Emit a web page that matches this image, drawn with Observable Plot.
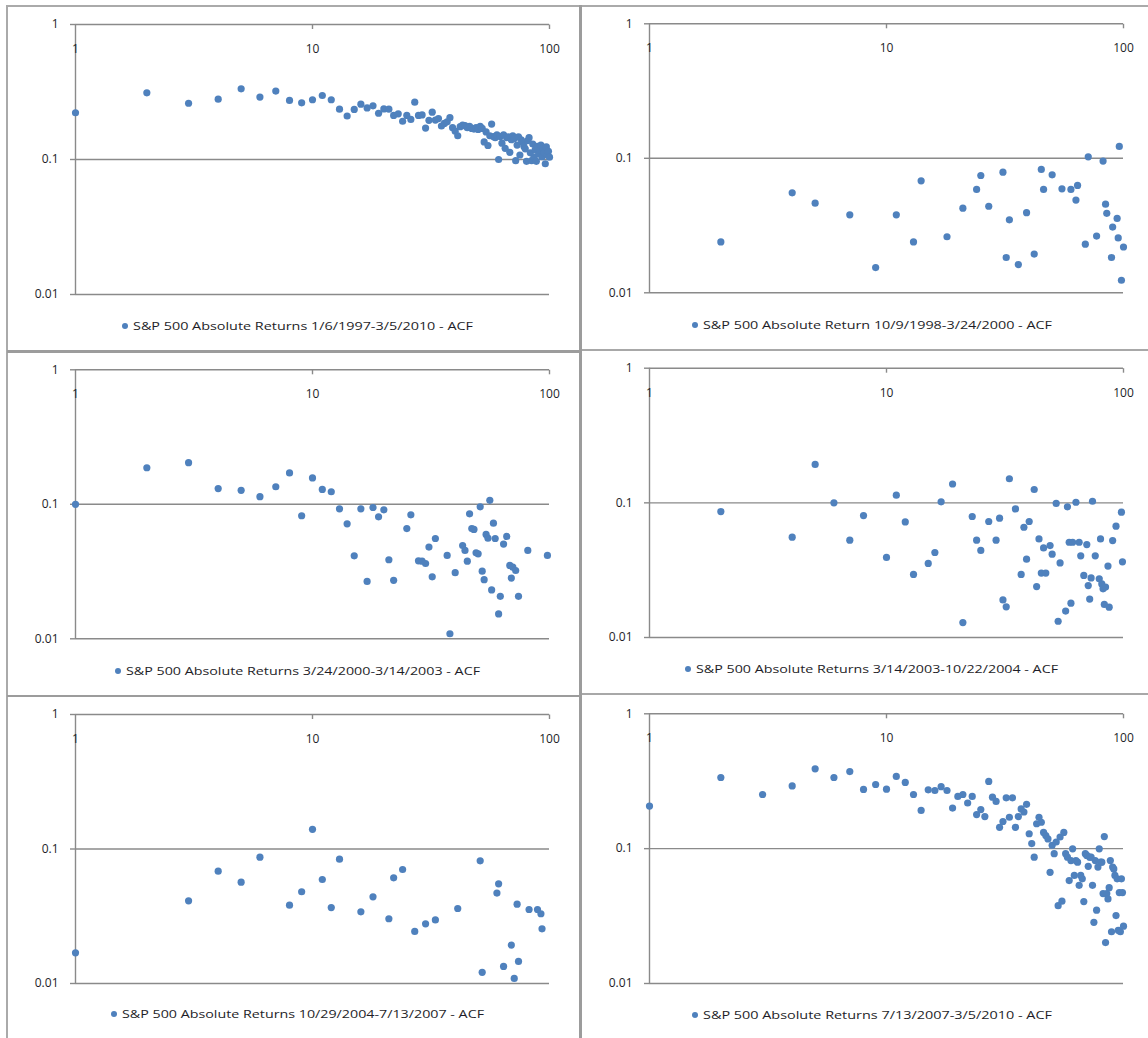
<!DOCTYPE html>
<html>
<head>
<meta charset="utf-8">
<script src="https://cdn.jsdelivr.net/npm/d3@7"></script>
<script src="https://cdn.jsdelivr.net/npm/@observablehq/plot@0.6"></script>
<style>
  html, body { margin: 0; padding: 0; background: #fff; }
  #page { position: relative; width: 1148px; height: 1038px; overflow: hidden; background: #fff; }
  .panel, .legend, .rule { position: absolute; }
  .rule { background: #a2a2a2; }
</style>
</head>
<body>
<div id="page"></div>
<script>
// Axis ticks shared by all six log-log panels
const xTicks = [1, 10, 100];
const yTicks = [0.01, 0.1, 1];

// Full sample: ACF of absolute returns at lags 1..100 (index + 1 = lag)
const acfFull = [
  0.222, 0.312, 0.261, 0.280, 0.334, 0.290, 0.321, 0.274, 0.263, 0.277,
  0.298, 0.277, 0.236, 0.210, 0.235, 0.257, 0.241, 0.250, 0.220, 0.237,
  0.236, 0.212, 0.218, 0.192, 0.212, 0.198, 0.266, 0.212, 0.214, 0.171,
  0.195, 0.224, 0.196, 0.201, 0.177, 0.185, 0.190, 0.204, 0.172, 0.162,
  0.150, 0.175, 0.180, 0.178, 0.172, 0.176, 0.170, 0.168, 0.172, 0.167,
  0.176, 0.170, 0.135, 0.160, 0.127, 0.150, 0.183, 0.148, 0.145, 0.152,
  0.100, 0.148, 0.132, 0.152, 0.121, 0.145, 0.147, 0.113, 0.140, 0.150,
  0.143, 0.098, 0.128, 0.147, 0.108, 0.140, 0.135, 0.125, 0.120, 0.097,
  0.138, 0.145, 0.112, 0.098, 0.130, 0.104, 0.118, 0.097, 0.125, 0.110,
  0.117, 0.128, 0.105, 0.120, 0.112, 0.093, 0.124, 0.108, 0.115, 0.104
];

// 10/9/1998 - 3/24/2000 (only positive ACF values appear on a log axis)
const lags9800 = [2, 4, 5, 7, 9, 11, 13, 14, 18, 21, 24, 25, 27, 31, 32, 33, 36, 39, 42, 45, 46, 50, 55, 60, 63, 64, 69, 71, 77, 82, 84, 85, 89, 90, 94, 95, 96, 98, 100];
const acf9800 = [0.0239, 0.0554, 0.0464, 0.0380, 0.0154, 0.0380, 0.0239, 0.0680, 0.0261, 0.0426, 0.0587, 0.0745, 0.0440, 0.0789, 0.0183, 0.0349, 0.0162, 0.0394, 0.0194, 0.0826, 0.0587, 0.0754, 0.0593, 0.0587, 0.0489, 0.0628, 0.0230, 0.1026, 0.0264, 0.0953, 0.0456, 0.0390, 0.0183, 0.0308, 0.0357, 0.0256, 0.1225, 0.0124, 0.0219];

// 3/24/2000 - 3/14/2003
const lags0003 = [1, 2, 3, 4, 5, 6, 7, 8, 9, 10, 11, 12, 13, 14, 15, 16, 17, 18, 19, 20, 21, 22, 25, 26, 28, 29, 30, 31, 32, 33, 37, 38, 40, 43, 44, 45, 46, 47, 48, 49, 50, 51, 52, 53, 54, 55, 56, 57, 58, 59, 61, 62, 64, 66, 68, 69, 70, 72, 74, 81, 98];
const acf0003 = [0.100, 0.187, 0.204, 0.131, 0.127, 0.114, 0.135, 0.171, 0.0822, 0.157, 0.129, 0.124, 0.0926, 0.0716, 0.0414, 0.0926, 0.0267, 0.0947, 0.0807, 0.0910, 0.0387, 0.0272, 0.0660, 0.0835, 0.0380, 0.0378, 0.0363, 0.0481, 0.0289, 0.0557, 0.0417, 0.0109, 0.0310, 0.0494, 0.0454, 0.0378, 0.0850, 0.0660, 0.0650, 0.0436, 0.0428, 0.0958, 0.0318, 0.0275, 0.0597, 0.0560, 0.107, 0.0231, 0.0724, 0.0557, 0.0153, 0.0207, 0.0506, 0.0577, 0.0351, 0.0283, 0.0341, 0.0322, 0.0207, 0.0454, 0.0417];

// 3/14/2003 - 10/22/2004
const lags0304 = [2, 4, 5, 6, 7, 8, 10, 11, 12, 13, 15, 16, 17, 19, 21, 23, 24, 25, 27, 29, 30, 31, 32, 33, 35, 37, 38, 39, 40, 42, 43, 44, 45, 46, 47, 49, 50, 52, 53, 54, 57, 58, 59, 60, 61, 63, 65, 66, 68, 70, 71, 72, 73, 74, 76, 79, 80, 81, 82, 83, 84, 86, 87, 90, 93, 98, 99];
const acf0304 = [0.0862, 0.0556, 0.193, 0.100, 0.0528, 0.0805, 0.0393, 0.114, 0.0722, 0.0294, 0.0355, 0.0428, 0.1017, 0.138, 0.0129, 0.0792, 0.0528, 0.0443, 0.0727, 0.0528, 0.0769, 0.0190, 0.0169, 0.151, 0.0902, 0.0294, 0.0659, 0.0382, 0.0727, 0.1256, 0.0239, 0.0540, 0.0301, 0.0463, 0.0301, 0.0482, 0.0416, 0.0990, 0.0132, 0.0358, 0.0157, 0.0934, 0.0510, 0.0180, 0.0510, 0.101, 0.0510, 0.0404, 0.0289, 0.0490, 0.0243, 0.0193, 0.0277, 0.1028, 0.0404, 0.0273, 0.0540, 0.0250, 0.0230, 0.0176, 0.0237, 0.0339, 0.0168, 0.0525, 0.0671, 0.0853, 0.0365];

// 10/29/2004 - 7/13/2007
const lags0407 = [1, 3, 4, 5, 6, 8, 9, 10, 11, 12, 13, 16, 18, 21, 22, 24, 27, 30, 33, 41, 51, 52, 60, 61, 64, 69, 71, 73, 74, 82, 89, 92, 93];
const acf0407 = [0.0169, 0.0412, 0.0684, 0.0567, 0.0869, 0.0382, 0.0481, 0.140, 0.0593, 0.0367, 0.0840, 0.0341, 0.0441, 0.0303, 0.0611, 0.0704, 0.0244, 0.0278, 0.0297, 0.0361, 0.0817, 0.0121, 0.0470, 0.0551, 0.0134, 0.0193, 0.0109, 0.0389, 0.0146, 0.0355, 0.0355, 0.0330, 0.0255];

// 7/13/2007 - 3/5/2010, lags 1..100 (index + 1 = lag)
const acf0710 = [
  0.207, 0.337, 0.252, 0.292, 0.391, 0.337, 0.373, 0.275, 0.299, 0.276,
  0.343, 0.310, 0.252, 0.192, 0.273, 0.270, 0.288, 0.270, 0.200, 0.244,
  0.252, 0.218, 0.244, 0.179, 0.195, 0.173, 0.315, 0.241, 0.224, 0.144,
  0.159, 0.238, 0.171, 0.238, 0.144, 0.173, 0.197, 0.187, 0.213, 0.129,
  0.109, 0.0865, 0.153, 0.171, 0.157, 0.132, 0.125, 0.118, 0.0667, 0.106,
  0.0917, 0.112, 0.0378, 0.122, 0.0408, 0.132, 0.0917, 0.0865, 0.058, 0.0816,
  0.0997, 0.0633, 0.0816, 0.0794, 0.0535, 0.0633, 0.0597, 0.0405, 0.0917, 0.089,
  0.074, 0.0865, 0.0865, 0.0535, 0.0284, 0.0816, 0.035, 0.073, 0.0997, 0.0794,
  0.0794, 0.0464, 0.123, 0.0201, 0.0464, 0.0424, 0.0514, 0.0816, 0.0242, 0.073,
  0.0707, 0.0633, 0.0319, 0.0597, 0.0248, 0.0472, 0.0242, 0.0597, 0.0472, 0.0266
];

const BLUE = "#4f81bd";
const AXIS = "#8a8a8a";
const INK = "#1e1e28";

const byLag = arr => arr.map((acf, i) => ({lag: i + 1, acf}));
const paired = (lags, vals) => lags.map((lag, i) => ({lag, acf: vals[i]}));

// Short downward tick used on the top (x) axis line
const tickDown = {draw(ctx) { ctx.moveTo(0, 0); ctx.lineTo(0, 4.5); }};

const fmt = d => String(d);

const panels = [
  {left: 0,   top: 0,   w: 578, h: 300, ml: 75, mr: 29, mt: 24,   mb: 6,
   data: byLag(acfFull), label: "S&P 500 Absolute Returns 1/6/1997-3/5/2010 - ACF",
   lx: 125, ly: 326, tx: 133, tw: 340},
  {left: 578, top: 0,   w: 570, h: 300, ml: 71, mr: 25, mt: 23.3, mb: 7.7,
   data: paired(lags9800, acf9800), label: "S&P 500 Absolute Return 10/9/1998-3/24/2000 - ACF",
   lx: 695, ly: 325, tx: 703, tw: 349},
  {left: 0,   top: 345, w: 578, h: 300, ml: 75, mr: 29, mt: 24.3, mb: 6.7,
   data: paired(lags0003, acf0003), label: "S&P 500 Absolute Returns 3/24/2000-3/14/2003 - ACF",
   lx: 118, ly: 670.5, tx: 126, tw: 354},
  {left: 578, top: 345, w: 570, h: 300, ml: 71, mr: 25, mt: 22.7, mb: 8,
   data: paired(lags0304, acf0304), label: "S&P 500 Absolute Returns 3/14/2003-10/22/2004 - ACF",
   lx: 688, ly: 669, tx: 696, tw: 362},
  {left: 0,   top: 690, w: 578, h: 300, ml: 75, mr: 29, mt: 24,   mb: 7,
   data: paired(lags0407, acf0407), label: "S&P 500 Absolute Returns 10/29/2004-7/13/2007 - ACF",
   lx: 114, ly: 1014, tx: 122, tw: 362},
  {left: 578, top: 690, w: 570, h: 300, ml: 71, mr: 25, mt: 23.3, mb: 7,
   data: byLag(acf0710), label: "S&P 500 Absolute Returns 7/13/2007-3/5/2010 - ACF",
   lx: 695, ly: 1015, tx: 703, tw: 349}
];

const page = document.getElementById("page");

for (const p of panels) {
  const chart = Plot.plot({
    width: p.w,
    height: p.h,
    marginLeft: p.ml,
    marginRight: p.mr,
    marginTop: p.mt,
    marginBottom: p.mb,
    x: {type: "log", domain: [1, 100], axis: null},
    y: {type: "log", domain: [0.01, 1], axis: null},
    style: {background: "transparent", overflow: "visible", fontFamily: "'Open Sans', sans-serif", fontSize: "12px", color: INK},
    marks: [
      Plot.ruleY(yTicks, {stroke: AXIS, strokeWidth: 1.4}),
      Plot.ruleX([1], {stroke: AXIS, strokeWidth: 1.4}),
      Plot.axisY({ticks: yTicks, tickSize: 5, tickPadding: 12, stroke: AXIS, strokeWidth: 1.4, tickFormat: fmt, label: null, fill: INK}),
      Plot.dot(xTicks.slice(1), {x: d => d, y: () => 1, symbol: tickDown, fill: "none", stroke: AXIS, strokeWidth: 1.4}),
      Plot.text(xTicks, {x: d => d, y: () => 1, dy: 24.5, text: fmt, fill: INK}),
      Plot.dot(p.data, {x: "lag", y: "acf", r: 3.6, fill: BLUE, stroke: "none"})
    ]
  });
  const holder = document.createElement("div");
  holder.className = "panel";
  holder.style.left = p.left + "px";
  holder.style.top = p.top + "px";
  holder.style.width = p.w + "px";
  holder.appendChild(chart);
  page.appendChild(holder);

  // Series legend below each plot
  const lg = d3.create("svg")
    .attr("class", "legend")
    .attr("width", 1148).attr("height", 30)
    .style("left", "0px").style("top", (p.ly - 15) + "px")
    .style("overflow", "visible");
  lg.append("circle").attr("cx", p.lx).attr("cy", 15).attr("r", 3).attr("fill", BLUE);
  lg.append("text")
    .attr("x", p.tx).attr("y", 15).attr("dy", "0.35em")
    .attr("textLength", p.tw).attr("lengthAdjust", "spacingAndGlyphs")
    .attr("font-family", "'Open Sans', sans-serif").attr("font-size", 11.5)
    .attr("fill", INK)
    .text(p.label);
  page.appendChild(lg.node());
}

// Chart-area borders between the panels
const rules = [
  {l: 6,   t: 5,   w: 1142, h: 2, c: "#aaaaaa"},
  {l: 6,   t: 5,   w: 2,    h: 1033, c: "#aaaaaa"},
  {l: 579, t: 5,   w: 3,    h: 1033, c: "#9c9c9c"},
  {l: 7,   t: 350, w: 573,  h: 3, c: "#9c9c9c"},
  {l: 582, t: 349, w: 566,  h: 2, c: "#a8a8a8"},
  {l: 7,   t: 694.5, w: 573, h: 2.5, c: "#9c9c9c"},
  {l: 582, t: 693, w: 566,  h: 2, c: "#a8a8a8"}
];
for (const r of rules) {
  const d = document.createElement("div");
  d.className = "rule";
  Object.assign(d.style, {left: r.l + "px", top: r.t + "px", width: r.w + "px", height: r.h + "px", background: r.c});
  page.appendChild(d);
}
</script>
</body>
</html>
